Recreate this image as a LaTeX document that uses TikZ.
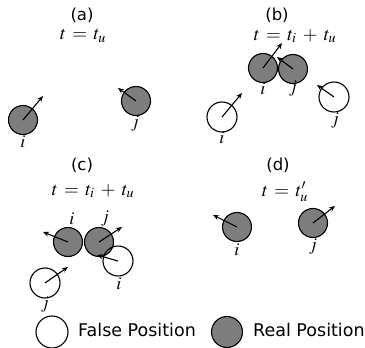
\documentclass[tikz,border=0pt]{standalone}
\usepackage{mathptmx}
\usepackage{fontspec}
\setsansfont{DejaVu Sans}
\usetikzlibrary{arrows.meta}
\definecolor{realgray}{RGB}{125,125,125}
\newcommand{\eqsp}{\mskip 6mu}
\tikzset{
  real/.style={circle, draw=black, line width=1.1pt, fill=realgray, minimum size=29pt, inner sep=0pt},
  false/.style={circle, draw=black, line width=1.1pt, minimum size=30pt, inner sep=0pt},
  vel/.style={line width=1.1pt, -{Stealth[length=6pt,width=5pt]}},
  lab/.style={font=\fontsize{18}{20}\selectfont, inner sep=0pt},
  title/.style={font=\sffamily\fontsize{16.5}{18}\selectfont, inner sep=0pt},
  formula/.style={font=\fontsize{19}{22}\selectfont, inner sep=0pt},
  leg/.style={font=\sffamily\fontsize{17.5}{20}\selectfont, inner sep=0pt, anchor=west}
}
\begin{document}
\begin{tikzpicture}[x=1pt,y=-1pt]
\useasboundingbox (0,0) rectangle (365,348);
% (a)
\node[title] (ta) at (82,15) {(a)};
\node[formula] (fa) at (83,36) {$t \eqsp{=}\eqsp t_u$};
\node[real] (ai) at (23,120) {};
\coordinate (aiv) at (43,96);
\draw[vel] (ai.center) -- (aiv);
\node[lab] (ail) at (23,142) {$i$};
\node[real] (aj) at (136,101) {};
\coordinate (ajv) at (118,88);
\draw[vel] (aj.center) -- (ajv);
\node[lab] (ajl) at (135,124) {$j$};
% (b)
\node[title] (tb) at (277,15) {(b)};
\node[formula] (fb) at (295,36) {$t \eqsp{=}\eqsp t_i \eqsp{+}\eqsp t_u$};
\node[real] (bi) at (263,68) {};
\node[real] (bj) at (293,69) {};
\coordinate (biv) at (282,43);
\coordinate (bjv) at (277,57);
\draw[vel] (bi.center) -- (biv);
\draw[vel] (bj.center) -- (bjv);
\node[lab] (bil) at (263,89) {$i$};
\node[lab] (bjl) at (293,89) {$j$};
\node[false] (bfi) at (222,117) {};
\coordinate (bfiv) at (242,93);
\draw[vel] (bfi.center) -- (bfiv);
\node[lab] (bfil) at (222,138) {$i$};
\node[false] (bfj) at (334,97) {};
\coordinate (bfjv) at (317,85);
\draw[vel] (bfj.center) -- (bfjv);
\node[lab] (bfjl) at (335,121) {$j$};
% (c)
\node[title] (tc) at (82,165) {(c)};
\node[formula] (fc) at (93,191) {$t \eqsp{=}\eqsp t_i \eqsp{+}\eqsp t_u$};
\node[real] (ci) at (68,242) {};
\node[real] (cj) at (99,242) {};
\coordinate (civ) at (43,232);
\coordinate (cjv) at (122,227);
\draw[vel] (ci.center) -- (civ);
\draw[vel] (cj.center) -- (cjv);
\node[lab] (cil) at (72,219) {$i$};
\node[lab] (cjl) at (105,219) {$j$};
\node[false] (cfi) at (118,261) {};
\coordinate (cfiv) at (97,255);
\draw[vel] (cfi.center) -- (cfiv);
\node[lab] (cfil) at (119,284) {$i$};
\node[false] (cfj) at (45,283) {};
\coordinate (cfjv) at (68,267);
\draw[vel] (cfj.center) -- (cfjv);
\node[lab] (cfjl) at (45,305) {$j$};
% (d)
\node[title] (td) at (278,165) {(d)};
\node[formula] (fd) at (285,192) {$t \eqsp{=}\eqsp t'_u$};
\node[real] (di) at (237,227) {};
\coordinate (div) at (213,215);
\draw[vel] (di.center) -- (div);
\node[lab] (dil) at (237,250) {$i$};
\node[real] (dj) at (313,223) {};
\coordinate (djv) at (335,206);
\draw[vel] (dj.center) -- (djv);
\node[lab] (djl) at (313,247) {$j$};
% legend
\node[false, minimum size=32pt] (lf) at (52,332) {};
\node[leg] (lft) at (78,330) {False Position};
\node[real, minimum size=31pt] (lr) at (227,332) {};
\node[leg] (lrt) at (253,330) {Real Position};
\end{tikzpicture}
\end{document}
